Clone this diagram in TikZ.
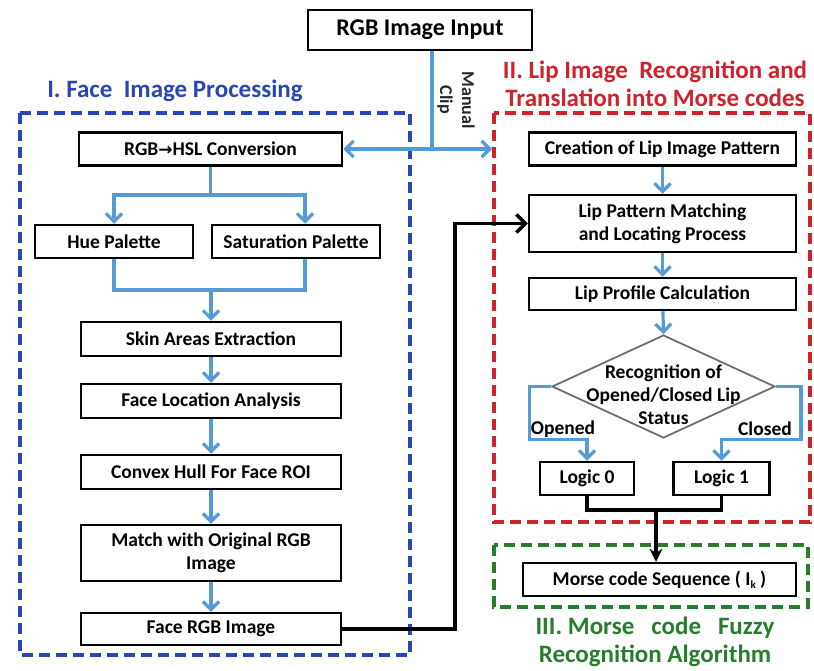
\documentclass[tikz,border=0pt]{standalone}
\usepackage{fontspec}
\setmainfont{Carlito}
\newfontfamily\dejavu{DejaVu Sans}
\usetikzlibrary{arrows.meta,shapes.geometric,calc}
\definecolor{fblue}{RGB}{40,70,180}
\definecolor{lred}{RGB}{205,35,45}
\definecolor{mgreen}{RGB}{40,125,45}
\definecolor{abl}{RGB}{85,155,215}
\definecolor{dgray}{RGB}{110,110,110}
\tikzset{
  stepbox/.style={draw=black, line width=2.5pt, fill=white, font=\fontsize{19.5}{23}\selectfont\bfseries, align=center, inner sep=0pt},
  barrow/.style={draw=abl, line width=3.2pt, -{Straight Barb[length=8pt,width=16pt,line width=3.2pt]}},
  bline/.style={draw=abl, line width=3.2pt},
  kline/.style={draw=black, line width=3.5pt},
  region/.style={line width=4.5pt, dash pattern=on 11pt off 6pt},
  ttl/.style={font=\fontsize{25}{28}\selectfont\bfseries, align=center},
  lbl/.style={font=\fontsize{19.5}{22}\selectfont\bfseries}
}
\begin{document}
\begin{tikzpicture}[x=1pt,y=-1pt]
\useasboundingbox (0,0) rectangle (814,671);
% regions
\draw[region, fblue] (20,113) rectangle (410,655);
\draw[region, lred] (494,113) rectangle (810,522);
\draw[region, mgreen] (494,545) rectangle (808,607);
% titles
\node[ttl, text=fblue] (t1) at (175,91) {I. Face\ \ Image Processing};
\node[ttl, text=lred] (t2) at (655,84) {II. Lip Image\ \ Recognition and\\Translation into Morse codes};
\node[ttl, text=mgreen] (t3) at (655,642) {III. Morse\ \ \ code\ \ \ Fuzzy\\Recognition Algorithm};
% input
\node[stepbox, minimum width=224, minimum height=40, font=\fontsize{24}{26}\selectfont\bfseries] (input) at (420,30) {RGB Image Input};
\node[rotate=-90, align=center, font=\fontsize{18}{22}\selectfont\bfseries, text=black!85] (mc) at (456,100) {Manual\\Clip};
% left column
\node[stepbox, minimum width=263, minimum height=33] (hsl) at (210.5,149) {RGB{\dejavu\bfseries\fontsize{17}{18}\selectfont →}HSL Conversion};
\node[stepbox, minimum width=158, minimum height=33] (hue) at (114,241.5) {Hue Palette};
\node[stepbox, minimum width=168, minimum height=33] (sat) at (296,241.5) {Saturation Palette};
\node[stepbox, minimum width=260, minimum height=34] (skin) at (211,339) {Skin Areas Extraction};
\node[stepbox, minimum width=260, minimum height=34] (loc) at (211,401) {Face Location Analysis};
\node[stepbox, minimum width=260, minimum height=34] (hull) at (211,472) {Convex Hull For Face ROI};
\node[stepbox, minimum width=260, minimum height=56] (match) at (211,553) {Match with Original RGB\\Image};
\node[stepbox, minimum width=260, minimum height=32] (face) at (211,629) {Face RGB Image};
% right column
\node[stepbox, minimum width=267, minimum height=33] (create) at (662.5,149) {Creation of Lip Image Pattern};
\node[stepbox, minimum width=267, minimum height=57] (lpm) at (662.5,223.5) {Lip Pattern Matching\\and Locating Process};
\node[stepbox, minimum width=267, minimum height=32] (prof) at (662.5,294) {Lip Profile Calculation};
\node[diamond, draw=dgray, line width=1.8pt, fill=white, minimum width=223, minimum height=103, inner sep=0pt] (dia) at (663.5,386.5) {};
\node[font=\fontsize{19.5}{23}\selectfont\bfseries, align=center] (diat) at (663.5,395) {Recognition of\\Opened/Closed Lip\\Status};
\node[stepbox, minimum width=94, minimum height=33] (l0) at (587,478.5) {Logic 0};
\node[stepbox, minimum width=96, minimum height=33] (l1) at (721.5,478.5) {Logic 1};
\node[stepbox, minimum width=273, minimum height=33] (morse) at (659.5,579.5) {Morse code Sequence ( I\raisebox{-3pt}{\fontsize{11}{11}\selectfont k} )};
\node[lbl] (op) at (563,429) {Opened};
\node[lbl] (cl) at (765,429) {Closed};
% input connectors
\coordinate (sp) at (432,149);
\coordinate (rt) at (492,149);
\draw[bline] (input.south -| sp) -- (sp);
\draw[barrow] (sp) -- (hsl.east);
\draw[barrow] (sp) -- (rt);
% left connectors
\coordinate (f1) at (210.5,195);
\draw[bline] (hsl.south) -- (f1);
\draw[barrow] (f1) -| (hue.north);
\draw[barrow] (f1) -| ([xshift=9pt]sat.north);
\coordinate (j) at (211,290);
\draw[bline] (hue.south) |- (j) -| ([xshift=9pt]sat.south);
\draw[barrow] (j) -- (skin.north);
\draw[barrow] (skin) -- (loc);
\draw[barrow] (loc) -- (hull);
\draw[barrow] (hull) -- (match);
\draw[barrow] (match) -- (face);
% right connectors
\draw[barrow] (create) -- (lpm);
\draw[barrow] (lpm) -- (prof);
\draw[barrow] (prof) -- (dia.north);
\draw[barrow] (dia.west) -| ++(-22,53) -| (l0.north);
\draw[barrow] (dia.east) -| ++(25,53) -| (l1.north);
% black connectors
\coordinate (bx) at (455,629);
\draw[kline, -{Straight Barb[length=9pt,width=18pt,line width=3.5pt]}] (face.east) -- (bx) |- (lpm.west);
\coordinate (mg) at (656,510);
\draw[kline] (l0.south) |- (mg) -| (l1.south);
\draw[kline, -{Stealth[length=13pt,width=13pt]}] (mg) -- (mg |- morse.north);
\end{tikzpicture}
\end{document}
